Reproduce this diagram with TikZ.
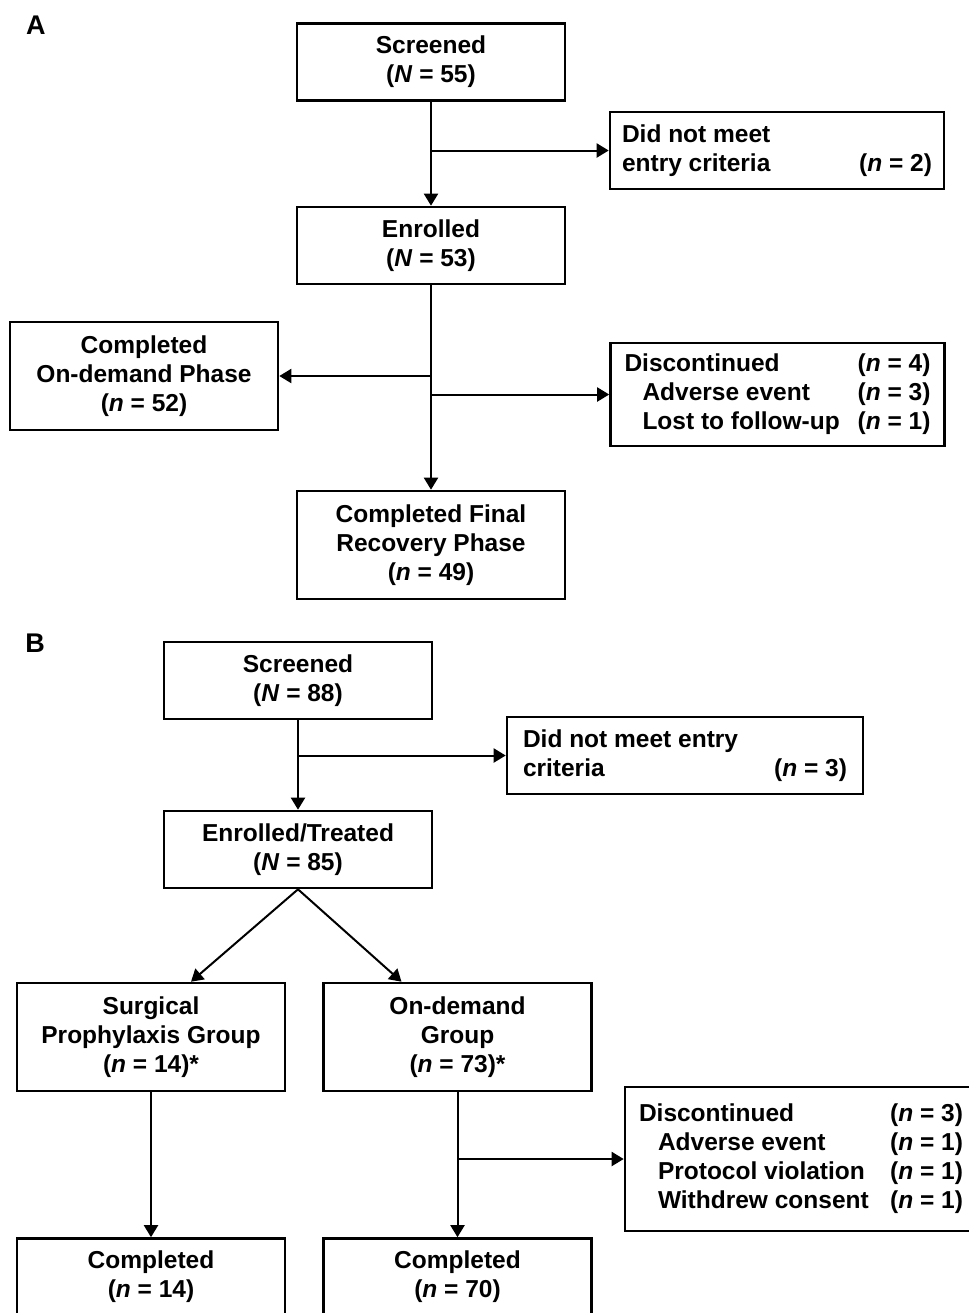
\documentclass[tikz,border=0pt]{standalone}
\usepackage{fontspec}
\setmainfont{Liberation Sans}
\usetikzlibrary{arrows.meta}

\tikzset{
	txt/.style={font=\fontsize{12.25pt}{14.5pt}\selectfont\bfseries},
	box/.style={txt, draw, line width=1.3pt, align=center, inner sep=0pt,
		minimum width=134pt, minimum height=38.5pt},
	tallbox/.style={box, minimum height=54pt},
	listbox/.style={txt, draw, line width=1.3pt, align=flush left, inner ysep=0pt},
	arr/.style={line width=1pt, -{Triangle[length=6pt,width=7pt]}}
}

\newcommand{\nn}[1]{(\textit{n} = #1)}
\newcommand{\NN}[1]{(\textit{N} = #1)}

\begin{document}
\begin{tikzpicture}[x=0.5pt, y=-0.5pt]

	\useasboundingbox (0,0) rectangle (969,1313);

	% panel A
	\node[txt, font=\fontsize{13.5pt}{14pt}\selectfont\bfseries] (labA) at (36,25) {A};
	\node[box] (scrA) at (431,62) {Screened\\\NN{55}};
	\node[listbox, text width=155pt, inner xsep=6pt, minimum height=38.5pt] (dnmA) at (777,150.5)
		{Did not meet\\entry criteria\hfill\nn{2}};
	\node[box] (enrA) at (431,245.5) {Enrolled\\\NN{53}};
	\node[tallbox] (compA) at (144,376) {Completed\\On-demand Phase\\\nn{52}};
	\node[listbox, text width=153pt, inner xsep=7pt, minimum height=51.5pt] (discA) at (777.5,394.5)
		{Discontinued\hfill\nn{4}\\
		\hspace*{9pt}Adverse event\hfill\nn{3}\\
		\hspace*{9pt}Lost to follow-up\hfill\nn{1}};
	\node[tallbox] (finA) at (431,545) {Completed Final\\Recovery Phase\\\nn{49}};

	% panel B
	\node[txt, font=\fontsize{13.5pt}{14pt}\selectfont\bfseries] (labB) at (35,643) {B};
	\node[box] (scrB) at (298,680.5) {Screened\\\NN{88}};
	\node[listbox, text width=162pt, inner xsep=8pt, minimum height=38.5pt] (dnmB) at (685,755.5)
		{Did not meet entry\\criteria\hfill\nn{3}};
	\node[box] (enrB) at (298,849.5) {Enrolled/Treated\\\NN{85}};
	\node[tallbox] (surg) at (151,1037) {Surgical\\Prophylaxis Group\\\nn{14}*};
	\node[tallbox] (ondem) at (457.5,1037) {On-demand\\Group\\\nn{73}*};
	\node[listbox, text width=162pt, inner xsep=7pt, minimum height=72pt] (discB) at (801,1159)
		{Discontinued\hfill\nn{3}\\
		\hspace*{9.5pt}Adverse event\hfill\nn{1}\\
		\hspace*{9.5pt}Protocol violation\hfill\nn{1}\\
		\hspace*{9.5pt}Withdrew consent\hfill\nn{1}};
	\node[box] (compL) at (151,1277) {Completed\\\nn{14}};
	\node[box] (compR) at (457.5,1277) {Completed\\\nn{70}};

	\foreach \a / \b in {
	scrA/enrA,
	enrA/finA,
	scrB/enrB,
	surg/compL,
	ondem/compR}
	{
		\draw[arr] (\a.south) -- (\b.north);
	};

	\foreach \a / \b in {
	scrA/dnmA,
	enrA/discA,
	scrB/dnmB,
	ondem/discB}
	{
		\draw[arr] (\a.south |- \b.west) -- (\b.west);
	};

	\draw[arr] (enrA.south |- compA.east) -- (compA.east);
	\draw[arr] (enrB.south) -- ([xshift=20pt]surg.north);
	\draw[arr] (enrB.south) -- ([xshift=-28pt]ondem.north);
	\end{tikzpicture}
\end{document}
